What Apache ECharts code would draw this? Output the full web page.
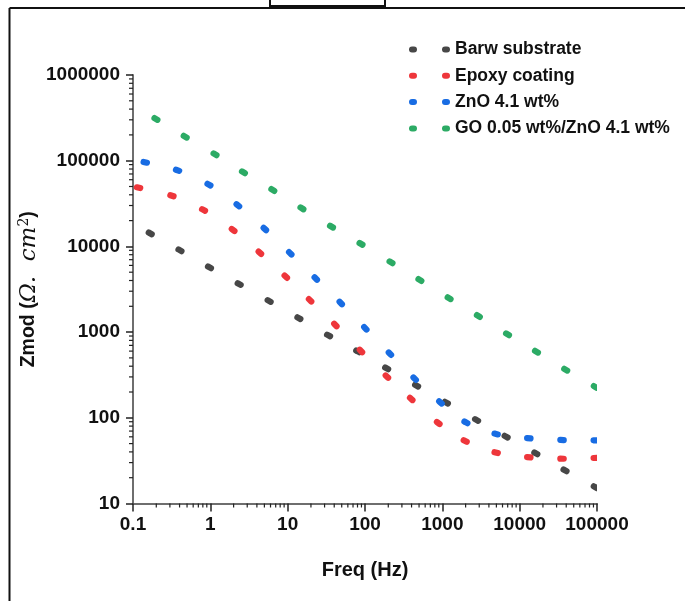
<!DOCTYPE html>
<html>
<head>
<meta charset="utf-8">
<script src="https://cdn.jsdelivr.net/npm/echarts@6/dist/echarts.min.js"></script>
<style>
html,body{margin:0;padding:0;background:#fff;}
#chart{width:685px;height:601px;}
</style>
</head>
<body>
<div id="chart"></div>
<script>
// ---- data ----
const seriesNames = ['Barw substrate', 'Epoxy coating', 'ZnO 4.1 wt%', 'GO 0.05 wt%/ZnO 4.1 wt%'];

const freqBare = [0.167, 0.405, 0.975, 2.36, 5.76, 13.97, 33.8, 80.5, 190.6, 465, 1129, 2772, 6680, 16180, 38600, 95000];
const zBare    = [14200, 9010, 5700, 3640, 2306, 1453, 913, 597, 378, 237, 150, 94.3, 60.2, 38.5, 24.4, 15.5];

const freqEpoxy = [0.118, 0.319, 0.817, 1.97, 4.37, 9.46, 19.5, 41.4, 88.7, 192, 396, 885, 1976, 4966, 13130, 35300, 95000];
const zEpoxy    = [48400, 39000, 26600, 15530, 8440, 4430, 2350, 1210, 602, 302, 166, 87, 53.6, 39.2, 34.6, 33.3, 34.0];

const freqZnO = [0.144, 0.377, 0.96, 2.27, 5.07, 10.8, 23.1, 48.6, 101, 210, 439, 945, 2017, 4966, 13130, 35300, 95000];
const zZnO    = [95800, 77300, 52500, 30200, 15960, 8300, 4220, 2186, 1107, 560, 286, 151, 88.6, 64.7, 57.7, 55.1, 54.6];

const freqGO = [0.198, 0.473, 1.15, 2.68, 6.43, 15.3, 36.9, 88.8, 217, 513, 1224, 2924, 6970, 16500, 39400, 95000];
const zGO    = [307000, 190600, 118800, 73200, 45500, 27800, 17000, 10700, 6520, 4055, 2487, 1541, 942, 591, 364, 229];

const xTickLabels = ['0.1', '1', '10', '100', '1000', '10000', '100000'];
const yTickLabels = ['10', '100', '1000', '10000', '100000', '1000000'];

// ---- styling ----
const colors = ['#474747', '#ee363b', '#186ce3', '#2cab65'];
const FONT = 'Liberation Sans, Arial, sans-serif';

const xMin = 0.1, xMax = 100000, yMin = 10, yMax = 1000000;
const multipliers = [2, 3, 4, 5, 6, 7, 8, 9];
const xMinor = [];
for (let e = -1; e < 5; e++) multipliers.forEach(m => xMinor.push([m * Math.pow(10, e), yMin]));
const yMinor = [];
for (let e = 1; e < 6; e++) multipliers.forEach(m => yMinor.push([xMin, m * Math.pow(10, e)]));

function pillSeries(name, fx, zy, color) {
  const n = fx.length;
  return {
    name: name,
    type: 'custom',
    clip: true,
    itemStyle: { color: color },
    data: fx.map((f, i) => [f, zy[i]]),
    encode: { x: 0, y: 1 },
    renderItem: function (params, api) {
      const i = params.dataIndex;
      const p = api.coord([api.value(0), api.value(1)]);
      const a = i > 0 ? api.coord([fx[i - 1], zy[i - 1]]) : p;
      const b = i < n - 1 ? api.coord([fx[i + 1], zy[i + 1]]) : p;
      const ang = Math.atan2(b[1] - a[1], b[0] - a[0]);
      return {
        type: 'rect',
        x: p[0], y: p[1],
        rotation: -ang,
        shape: { x: -4.8, y: -3.1, width: 9.6, height: 6.2, r: 3.1 },
        style: { fill: color }
      };
    }
  };
}

function minorSeries(data, horizontal) {
  return {
    type: 'custom',
    silent: true,
    clip: false,
    data: data,
    encode: { x: 0, y: 1 },
    renderItem: function (params, api) {
      const p = api.coord([api.value(0), api.value(1)]);
      const shape = horizontal
        ? { x1: p[0], y1: p[1], x2: p[0], y2: p[1] + 4 }
        : { x1: p[0] - 4, y1: p[1], x2: p[0], y2: p[1] };
      return { type: 'line', shape: shape, style: { stroke: '#222', lineWidth: 1.2 } };
    }
  };
}

const legendIcon = 'path://M3,0 L5,0 A3,3 0 0 1 5,6 L3,6 A3,3 0 0 1 3,0 Z M36,0 L38,0 A3,3 0 0 1 38,6 L36,6 A3,3 0 0 1 36,0 Z';

const chart = echarts.init(document.getElementById('chart'), null, { renderer: 'canvas' });
chart.setOption({
  backgroundColor: '#ffffff',
  animation: false,
  grid: { left: 133, right: 88, top: 75, bottom: 97.5, containLabel: false, outerBoundsMode: 'none' },
  legend: {
    data: seriesNames,
    orient: 'vertical',
    left: 404, top: 35.5, padding: 5,
    itemWidth: 41, itemHeight: 6, itemGap: 8.3,
    icon: legendIcon,
    selectedMode: false,
    textStyle: { fontFamily: FONT, fontWeight: 'bold', fontSize: 17.5, color: '#111' }
  },
  xAxis: {
    type: 'log', logBase: 10, min: xMin, max: xMax, splitNumber: 6,
    name: 'Freq (Hz)', nameLocation: 'middle', nameGap: 57,
    nameTextStyle: { fontFamily: FONT, fontWeight: 'bold', fontSize: 20, color: '#111' },
    axisLine: { show: true, onZero: false, lineStyle: { color: '#6e6e6e', width: 2 } },
    axisTick: { show: true, length: 8, lineStyle: { color: '#222', width: 1.5 } },
    axisLabel: {
      margin: 12, fontFamily: FONT, fontWeight: 'bold', fontSize: 19, color: '#111',
      formatter: v => xTickLabels[Math.round(Math.log10(v)) + 1]
    },
    splitLine: { show: false }
  },
  yAxis: {
    type: 'log', logBase: 10, min: yMin, max: yMax, splitNumber: 5,
    name: '{b|Zmod (}{m|Ω.  cm}{s|2}{b|)}', nameLocation: 'middle', nameGap: 92, nameRotate: 90,
    nameMoveOverlap: false,
    nameTextStyle: {
      rich: {
        b: { fontFamily: FONT, fontWeight: 'bold', fontSize: 19.5, color: '#111', lineHeight: 24 },
        m: { fontFamily: 'DejaVu Serif', fontStyle: 'italic', fontSize: 23, color: '#111', lineHeight: 24 },
        s: { fontFamily: 'DejaVu Serif', fontSize: 14, color: '#111', verticalAlign: 'top', lineHeight: 14 }
      }
    },
    axisLine: { show: true, onZero: false, lineStyle: { color: '#6e6e6e', width: 2 } },
    axisTick: { show: true, length: 7, lineStyle: { color: '#222', width: 1.5 } },
    axisLabel: {
      margin: 13, fontFamily: FONT, fontWeight: 'bold', fontSize: 19, color: '#111',
      formatter: v => yTickLabels[Math.round(Math.log10(v)) - 1]
    },
    splitLine: { show: false }
  },
  graphic: [
    { type: 'line', shape: { x1: 9.5, y1: 8, x2: 9.5, y2: 601 }, style: { stroke: '#111', lineWidth: 2 } },
    { type: 'line', shape: { x1: 9.5, y1: 8, x2: 685, y2: 8 }, style: { stroke: '#111', lineWidth: 2 } },
    { type: 'rect', shape: { x: 270, y: -3, width: 115, height: 9 }, style: { fill: '#fff', stroke: '#111', lineWidth: 2 } }
  ],
  series: [
    pillSeries(seriesNames[0], freqBare, zBare, colors[0]),
    pillSeries(seriesNames[1], freqEpoxy, zEpoxy, colors[1]),
    pillSeries(seriesNames[2], freqZnO, zZnO, colors[2]),
    pillSeries(seriesNames[3], freqGO, zGO, colors[3]),
    minorSeries(xMinor, true),
    minorSeries(yMinor, false)
  ]
});
</script>
</body>
</html>
